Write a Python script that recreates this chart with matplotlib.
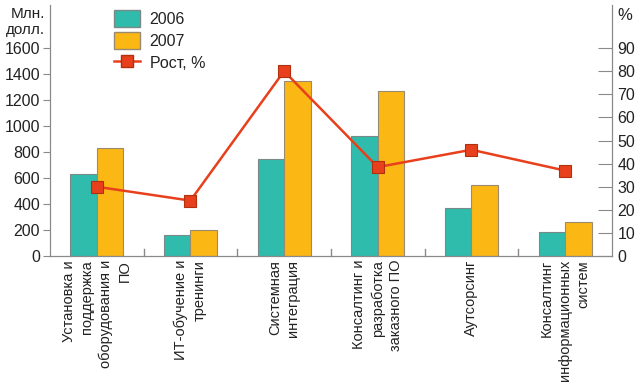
import matplotlib
matplotlib.use("Agg")
import matplotlib.pyplot as plt
import numpy as np
from matplotlib.patches import Patch
from matplotlib.lines import Line2D

categories = ["Установка и\nподдержка\nоборудования и\nПО",
              "ИТ-обучение и\nтренинги",
              "Системная\nинтеграция",
              "Консалтинг и\nразработка\nзаказного ПО",
              "Аутсорсинг",
              "Консалтинг\nинформационных\nсистем"]
v2006 = [635, 165, 750, 920, 367, 188]
v2007 = [832, 198, 1343, 1268, 543, 262]
growth = [30, 24, 80, 38.5, 46, 37]
left_ticks = [0, 200, 400, 600, 800, 1000, 1200, 1400, 1600]
right_ticks = [0, 10, 20, 30, 40, 50, 60, 70, 80, 90]

plt.rcParams['font.family'] = ['Liberation Sans', 'DejaVu Sans']
c06 = "#2fbcac"
c07 = "#fbb714"
cline = "#e8401c"
axc = "#8a8a8a"
tc = "#222222"

fig = plt.figure(figsize=(6.4, 3.88), dpi=100)
ax = fig.add_axes([0.078, 0.340, 0.878, 0.647])
x = np.arange(len(categories))
w = 0.283
ax.bar(x - w/2, v2006, w, color=c06, edgecolor="#7a8a86", linewidth=0.8, zorder=2)
ax.bar(x + w/2, v2007, w, color=c07, edgecolor="#9a8a70", linewidth=0.8, zorder=2)
ax.set_xlim(-0.5, 5.5)
ax.set_ylim(0, 1600 * (251 / 208))
ax.set_yticks(left_ticks)
ax.tick_params(axis='y', direction='out', length=5, color=axc, labelsize=11.5,
               pad=2, labelcolor=tc)
ax.spines['top'].set_visible(False)
for s in ['left', 'right', 'bottom']:
    ax.spines[s].set_color(axc)
ax.set_xticks(x)
ax.set_xticklabels([])
ax.tick_params(axis='x', length=0)
for xi in x[:-1] + 0.5:
    ax.plot([xi, xi], [0, 55], color=axc, lw=1, zorder=1, clip_on=False)
for xi, lab in zip(x, categories):
    ax.text(xi, -30, lab, rotation=90, ha='center', va='top', ma='right',
            fontsize=10.5, color=tc, linespacing=1.4)

ax2 = ax.twinx()
ax2.set_ylim(0, 90 * (251 / 208))
ax2.set_yticks(right_ticks)
ax2.tick_params(axis='y', direction='in', length=10, color=axc, labelsize=11.5,
                pad=4, labelcolor=tc)
ax2.spines['top'].set_visible(False)
for s in ['left', 'right', 'bottom']:
    ax2.spines[s].set_color(axc)
ax2.plot(x, growth, color=cline, lw=1.8, marker='s', markersize=8,
         markerfacecolor=cline, markeredgecolor="#b03010", markeredgewidth=0.8, zorder=5)

fig.text(45/640, 1 - 22/388, "Млн.\nдолл.", ha='right', va='center', fontsize=11,
         color=tc, linespacing=1.2)
fig.text(617/640, 1 - 15/388, "%", ha='left', va='center', fontsize=12, color=tc)

handles = [Patch(facecolor=c06, edgecolor="#7a8a86"),
           Patch(facecolor=c07, edgecolor="#9a8a70"),
           Line2D([0], [0], color=cline, lw=1.8, marker='s', markersize=8,
                  markerfacecolor=cline, markeredgecolor="#b03010")]
leg = fig.legend(handles, ["2006", "2007", "Рост, %"], loc='upper left',
                 bbox_to_anchor=(100/640, 1.012), frameon=False, fontsize=11.5,
                 handlelength=1.6, handleheight=1.3, labelspacing=0.3, handletextpad=0.6)
for t in leg.get_texts():
    t.set_color(tc)
fig.savefig("out.png", dpi=100)
